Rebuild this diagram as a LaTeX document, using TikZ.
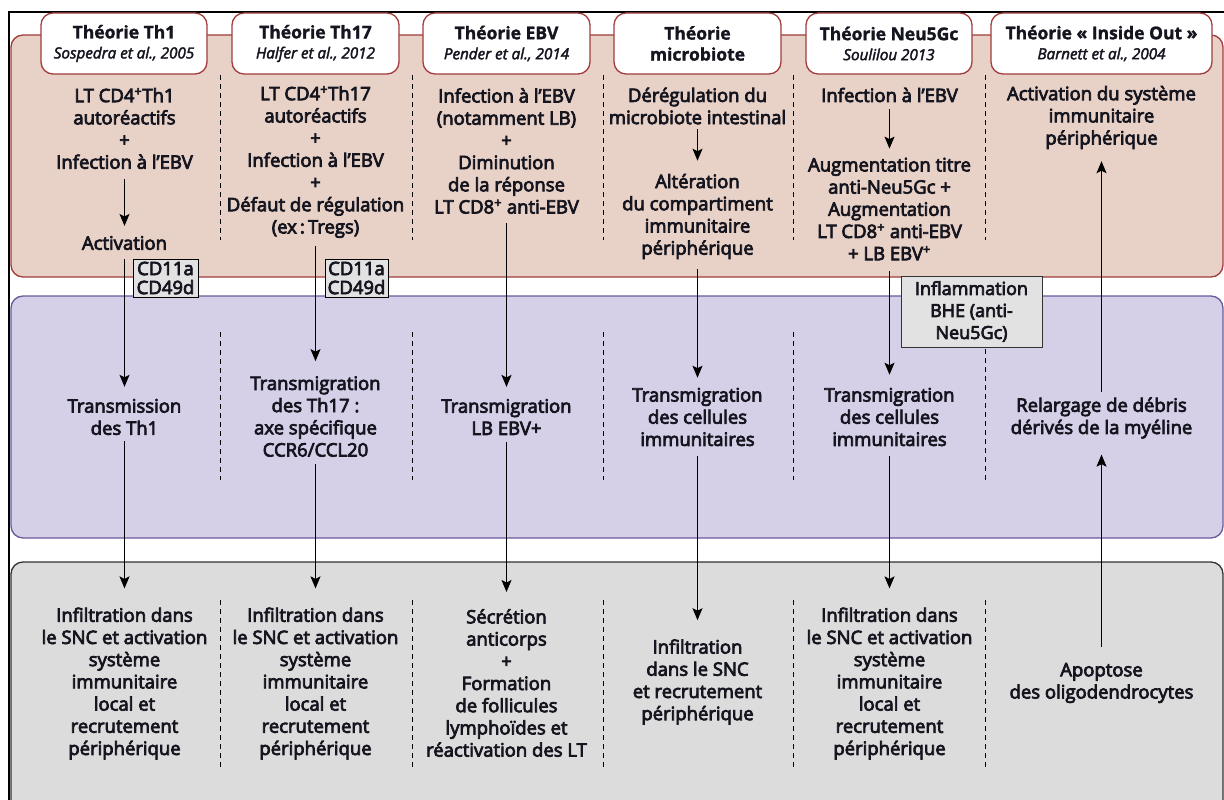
\documentclass[tikz,border=0pt]{standalone}
\usepackage{fontspec}
\setmainfont{Open Sans}[FakeBold=4, BoldFeatures={FakeBold=1.5}, ItalicFeatures={FakeBold=2.5}]
\usetikzlibrary{arrows.meta}

\definecolor{peach}{HTML}{E8D1C6}
\definecolor{peachline}{HTML}{A13D3D}
\definecolor{lilac}{HTML}{D5CFE7}
\definecolor{lilacline}{HTML}{6A5A9C}
\definecolor{greyband}{HTML}{DCDCDC}
\definecolor{tagfill}{HTML}{E2E2E2}
\definecolor{ink}{HTML}{15151F}

\tikzset{
  band/.style={rounded corners=12pt, line width=1.3pt},
  head/.style={draw=peachline, fill=white, rounded corners=12pt, line width=1.3pt,
    align=center, inner sep=0pt, minimum height=61pt, text=ink,
    font=\fontsize{16}{20}\selectfont},
  txt/.style={align=center, inner sep=0pt, text=ink,
    font=\fontsize{18.5}{22.2}\selectfont},
  tag/.style={draw=black, fill=tagfill, line width=1pt, align=center, inner sep=0pt,
    text=ink, font=\fontsize{18.5}{19}\selectfont},
  sep/.style={line width=1pt, dash pattern=on 5pt off 4pt},
  arr/.style={line width=1.1pt, -{Stealth[length=12pt,width=10pt,inset=2.5pt]}}
}
\newcommand\ttl[1]{{\fontsize{17.5}{20}\bfseries #1}}
\newcommand\cit[1]{{\fontsize{15.2}{20}\itshape #1}}

\begin{document}
\begin{tikzpicture}[x=1pt, y=-1pt]
\useasboundingbox (0,0) rectangle (1224,800);

% outer frame
\draw[line width=1.3pt] (1224,12) -- (9,12) -- (9,800);

% three horizontal bands
\draw[band, fill=peach, draw=peachline] (11,35) rectangle (1223,277);
\draw[band, fill=lilac, draw=lilacline] (11,296) rectangle (1223,538);
\draw[band, fill=greyband, draw=black!80] (11,562) rectangle (1223,830);

% column separators
\foreach \x in {220.5,412.5,603.5,793.5,985.5} {
  \draw[sep] (\x,75) -- (\x,240);
  \draw[sep] (\x,600) -- (\x,767);
}
\foreach \x in {220.5,412.5,603.5,793.5} \draw[sep] (\x,332) -- (\x,480);
\draw[sep] (985.5,349) -- (985.5,480);

% theory headers
\node[head, minimum width=166pt] (h1) at (124,43.5) {\ttl{Théorie Th1}\\\cit{Sospedra et al., 2005}};
\node[head, minimum width=167pt] (h2) at (315.5,43.5) {\ttl{Théorie Th17}\\\cit{Halfer et al., 2012}};
\node[head, minimum width=167pt] (h3) at (506.5,43.5) {\ttl{Théorie EBV}\\\cit{Pender et al., 2014}};
\node[head, minimum width=167pt, font=\fontsize{17.5}{21}\selectfont] (h4) at (697.5,43.5) {\ttl{Théorie}\\\ttl{microbiote}};
\node[head, minimum width=166pt] (h5) at (889,43.5) {\ttl{Théorie Neu5Gc}\\\cit{Soulilou 2013}};
\node[head, minimum width=221pt] (h6) at (1101.5,43.5) {\ttl{Théorie «~Inside Out~»}\\\cit{Barnett et al., 2004}};

% peripheral events
\node[txt] (t1) at (124.5,128.5) {LT CD4\textsuperscript{+}Th1\\autoréactifs\\+\\Infection à l’EBV};
\node[txt] (a1) at (124.5,243) {Activation};
\node[txt] (t2) at (315.5,162) {LT CD4\textsuperscript{+}Th17\\autoréactifs\\+\\Infection à l’EBV\\+\\Défaut de régulation\\(ex\,:\,Tregs)};
\node[txt] (t3) at (506.5,151) {Infection à l’EBV\\(notamment LB)\\+\\Diminution\\de la réponse\\LT CD8\textsuperscript{+} anti-EBV};
\node[txt] (t4a) at (697.5,106) {Dérégulation du\\microbiote intestinal};
\node[txt] (t4b) at (697.5,216.5) {Altération\\du compartiment\\immunitaire\\périphérique};
\node[txt] (t5a) at (889.5,95) {Infection à l’EBV};
\node[txt] (t5b) at (889.5,209) {Augmentation titre\\anti-Neu5Gc +\\Augmentation\\LT CD8\textsuperscript{+} anti-EBV\\+ LB EBV\textsuperscript{+}};
\node[txt] (t6) at (1101.5,117.5) {Activation du système\\immunitaire\\périphérique};

% markers
\node[tag, minimum width=65pt, minimum height=38pt] (g1) at (165.5,278) {CD11a\\CD49d};
\node[tag, minimum width=63pt, minimum height=38pt] (g2) at (356.5,278) {CD11a\\CD49d};
\node[tag, draw=black!80, minimum width=141pt, minimum height=71pt, font=\fontsize{18}{22}\selectfont] (g3) at (971.5,311.5) {Inflammation\\BHE (anti-\\Neu5Gc)};

% migration
\node[txt] (m1) at (124.5,417) {Transmission\\des Th1};
\node[txt] (m2) at (315.5,416.5) {Transmigration\\des Th17 :\\axe spécifique\\CCR6/CCL20};
\node[txt] (m3) at (506.5,417) {Transmigration\\LB EBV+};
\node[txt] (m4) at (697.5,417) {Transmigration\\des cellules\\immunitaires};
\node[txt] (m5) at (889.5,417) {Transmigration\\des cellules\\immunitaires};
\node[txt] (m6) at (1101.5,418) {Relargage de débris\\dérivés de la myéline};

% central nervous system
\node[txt] (b1) at (124.5,683.5) {Infiltration dans\\le SNC et activation\\système\\immunitaire\\local et\\recrutement\\périphérique};
\node[txt] (b2) at (315.5,683.5) {Infiltration dans\\le SNC et activation\\système\\immunitaire\\local et\\recrutement\\périphérique};
\node[txt] (b3) at (506.5,683) {Sécrétion\\anticorps\\+\\Formation\\de follicules\\lymphoïdes et\\réactivation des LT};
\node[txt] (b4) at (697.5,682) {Infiltration\\dans le SNC\\et recrutement\\périphérique};
\node[txt] (b5) at (889.5,683.5) {Infiltration dans\\le SNC et activation\\système\\immunitaire\\local et\\recrutement\\périphérique};
\node[txt] (b6) at (1101.5,683) {Apoptose\\des oligodendrocytes};

% Th1
\draw[arr, shorten <=10pt, shorten >=10pt] (t1.south) -- (a1.north);
\draw[arr, shorten <=9pt, shorten >=12pt] (a1.south) -- (m1.north);
\draw[arr, shorten <=6pt, shorten >=19pt] (m1.south) -- (b1.north);
% Th17
\draw[arr, shorten <=8pt, shorten >=15pt] (t2.south) -- (m2.north);
\draw[arr, shorten <=7pt, shorten >=19pt] (m2.south) -- (b2.north);
% EBV
\draw[arr, shorten <=9pt, shorten >=12pt] (t3.south) -- (m3.north);
\draw[arr, shorten <=7pt, shorten >=17pt] (m3.south) -- (b3.north);
% microbiota
\draw[arr, shorten <=5pt, shorten >=13pt] (t4a.south) -- (t4b.north);
\draw[arr, shorten <=10pt, shorten >=10pt] (t4b.south) -- (m4.north);
\draw[arr, shorten <=10pt, shorten >=19pt] (m4.south) -- (b4.north);
% Neu5Gc
\draw[arr, shorten <=7pt, shorten >=9pt] (t5a.south) -- (t5b.north);
\draw[arr, shorten <=11pt, shorten >=13pt] (t5b.south) -- (m5.north);
\draw[arr, shorten <=10pt, shorten >=19pt] (m5.south) -- (b5.north);
% inside out
\draw[arr, shorten <=16pt, shorten >=16pt] (b6.north) -- (m6.south);
\draw[arr, shorten <=5pt, shorten >=12pt] (m6.north) -- (t6.south);
\end{tikzpicture}
\end{document}
